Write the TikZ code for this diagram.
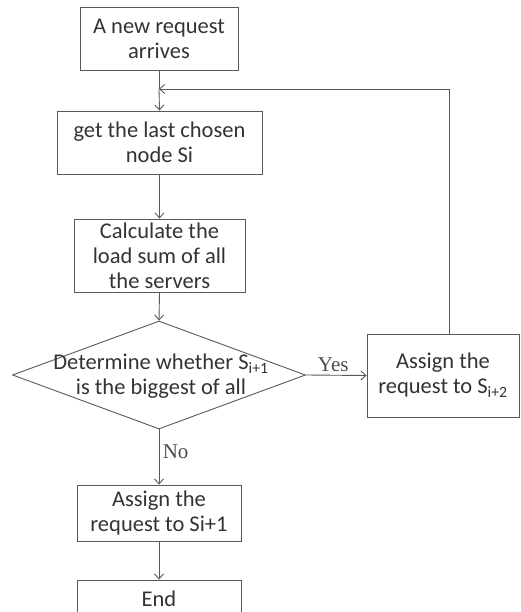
\documentclass[tikz,border=0pt]{standalone}
\usepackage{fontspec}
\setmainfont{Carlito}
\newfontfamily\lblfont{Liberation Serif}
\usetikzlibrary{arrows.meta,shapes.geometric}
\begin{document}
\begin{tikzpicture}[x=1pt,y=-1pt,
  line width=0.9pt,
  every node/.style={text=black!80},
  boxstyle/.style={draw=black!65,rectangle,align=center,font=\fontsize{22.5}{25}\selectfont,inner sep=0pt},
  conn/.style={draw=black!65,-{Straight Barb[length=5pt,width=9pt]}},
  lbl/.style={font=\lblfont\fontsize{21}{22}\selectfont,text=black!70}]
\useasboundingbox (0,0) rectangle (520,612);
\node[boxstyle,minimum width=158pt,minimum height=63pt] (b1) at (159,38.5) {A new request\\arrives};
\node[boxstyle,minimum width=205pt,minimum height=63pt] (b2) at (159.5,142.5) {get the last chosen\\node Si};
\node[boxstyle,minimum width=171pt,minimum height=73pt] (b3) at (159.5,255.5) {Calculate the\\load sum of all\\the servers};
\node[draw=black!65,diamond,aspect=2.7,minimum width=293pt,minimum height=108pt,inner sep=0pt] (d) at (159,375) {};
\node[align=center,font=\fontsize{22.5}{25}\selectfont] at (161,376) {Determine whether S\textsubscript{i+1}\\is the biggest of all};
\node[boxstyle,minimum width=152pt,minimum height=83pt] (b4) at (443,375.5) {Assign the\\request to S\textsubscript{i+2}};
\node[boxstyle,minimum width=164pt,minimum height=56pt] (b5) at (159,513) {Assign the\\request to Si+1};
\node[boxstyle,minimum width=164pt,minimum height=38pt] (b6) at (159,599) {End};
\coordinate (j) at (159,89);
\coordinate (c) at (449,89);
\draw[draw=black!65] (b1.south) -- (j);
\draw[conn] (j) -- (b2.north);
\draw[conn] (b4.north -| c) -- (c) -- (j);
\draw[conn] (b2.south) -- (b3.north);
\draw[conn] (b3.south) -- (d.north);
\draw[conn] (d.east) -- node[lbl,above,pos=0.45] {Yes} (b4.west);
\draw[conn] (d.south) -- node[lbl,right,pos=0.4] {No} (b5.north);
\draw[conn] (b5.south) -- (b6.north);
\end{tikzpicture}
\end{document}
